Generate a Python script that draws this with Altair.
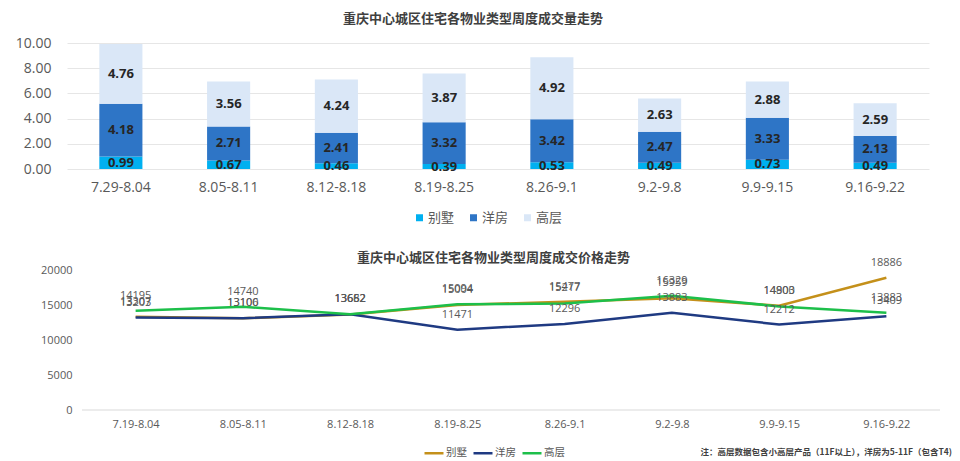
import altair as alt
import pandas as pd

# ---------------- data ----------------
weeks_bar = ["7.29-8.04", "8.05-8.11", "8.12-8.18", "8.19-8.25",
             "8.26-9.1", "9.2-9.8", "9.9-9.15", "9.16-9.22"]
weeks_line = ["7.19-8.04", "8.05-8.11", "8.12-8.18", "8.19-8.25",
              "8.26-9.1", "9.2-9.8", "9.9-9.15", "9.16-9.22"]
types = ["别墅", "洋房", "高层"]

vol_villa = [0.99, 0.67, 0.46, 0.39, 0.53, 0.49, 0.73, 0.49]
vol_yangfang = [4.18, 2.71, 2.41, 3.32, 3.42, 2.47, 3.33, 2.13]
vol_gaoceng = [4.76, 3.56, 4.24, 3.87, 4.92, 2.63, 2.88, 2.59]

price_villa = [13307, 13100, 13652, 15004, 15477, 15959, 14900, 18886]
price_yangfang = [13203, 13106, 13662, 11471, 12296, 13883, 12212, 13409]
price_gaoceng = [14195, 14740, 13682, 15094, 15217, 16329, 14803, 13883]

title_top = "重庆中心城区住宅各物业类型周度成交量走势"
title_bot = "重庆中心城区住宅各物业类型周度成交价格走势"
footnote = "注：高层数据包含小高层产品（11F以上），洋房为5-11F（包含T4)"

# ---------------- tables ----------------
vol_rows = []
for i, w in enumerate(weeks_bar):
    for k, (t, arr) in enumerate(zip(types, [vol_villa, vol_yangfang, vol_gaoceng])):
        vol_rows.append({"week": w, "type": t, "value": arr[i], "order": k})
df_vol = pd.DataFrame(vol_rows)

price_rows = []
for i, w in enumerate(weeks_line):
    for k, (t, arr) in enumerate(zip(types, [price_villa, price_yangfang, price_gaoceng])):
        price_rows.append({"week": w, "type": t, "price": arr[i], "order": k})
df_price = pd.DataFrame(price_rows)

CJK = "Noto Sans CJK SC"
NUM = "Open Sans"
GREY = "#595959"

bar_colors = ["#00B0F0", "#2E75C6", "#DAE7F7"]
line_colors = ["#C4901A", "#1F3A82", "#1DBF4A"]

# ---------------- top chart ----------------
W_TOP = 862
H_TOP = 126

x_top = alt.X("week:N", sort=weeks_bar, title=None,
              scale=alt.Scale(paddingInner=0.6, paddingOuter=0.3),
              axis=alt.Axis(labelAngle=0, domain=False, ticks=False, tickSize=0,
                            labelFontSize=14, labelColor=GREY, labelFont=NUM,
                            labelPadding=11))

y_top_axis = alt.Axis(values=[0, 2, 4, 6, 8, 10], format=".2f",
                      domain=False, ticks=False, tickSize=0,
                      gridColor="#E6E6E6", gridWidth=1, labelOverlap=False,
                      labelFontSize=14, labelColor=GREY, labelFont=NUM,
                      labelPadding=16)

base_top = (alt.Chart(df_vol)
            .transform_stack(stack="value", groupby=["week"],
                             sort=[alt.SortField("order", order="ascending")],
                             as_=["y0", "y1"])
            .transform_calculate(mid="(datum.y0 + datum.y1) / 2"))

bars = base_top.mark_bar().encode(
    x=x_top,
    y=alt.Y("y1:Q", title=None, scale=alt.Scale(domain=[0, 10]), axis=y_top_axis),
    y2="y0:Q",
    color=alt.Color("type:N", sort=types,
                    scale=alt.Scale(domain=types, range=bar_colors),
                    legend=alt.Legend(title=None, orient="none", direction="horizontal",
                                      legendX=346, legendY=168,
                                      symbolType="square", symbolSize=49,
                                      symbolStrokeWidth=0, labelFont=CJK,
                                      labelFontSize=13, labelColor=GREY,
                                      labelOffset=2, columnPadding=12, padding=0)),
    order=alt.Order("order:Q"),
)

bar_labels = base_top.mark_text(fontWeight="bold", fontSize=13, color="#262626",
                                font=NUM, baseline="middle").encode(
    x=x_top,
    y=alt.Y("mid:Q", title=None, axis=y_top_axis),
    text=alt.Text("value:Q", format=".2f"),
)

top = alt.layer(bars, bar_labels).properties(
    width=W_TOP, height=H_TOP,
    title=alt.TitleParams(title_top, fontSize=13, font=CJK, fontWeight="bold",
                          color="#404040", anchor="middle", dx=-25, offset=10,
                          frame="group"),
)

# ---------------- bottom chart ----------------
W_BOT = 873
H_BOT = 140

x_bot = alt.X("week:N", sort=weeks_line, title=None,
              scale=alt.Scale(type="point", padding=0.5, range=[15, W_BOT]),
              axis=alt.Axis(labelAngle=0, domain=False, ticks=False, tickSize=0,
                            grid=False, labelFontSize=11, labelColor=GREY,
                            labelFont=NUM, labelPadding=8))

y_bot_axis = alt.Axis(values=[0, 5000, 10000, 15000, 20000], format="d",
                      grid=False, domain=False, ticks=False, tickSize=0,
                      labelOverlap=False,
                      labelFontSize=11, labelColor=GREY, labelFont=NUM,
                      offset=-15, labelPadding=10)

y_bot = alt.Y("price:Q", title=None, scale=alt.Scale(domain=[0, 20000]),
              axis=y_bot_axis)

lines = alt.Chart(df_price).mark_line(strokeWidth=2.5).encode(
    x=x_bot, y=y_bot,
    color=alt.Color("type:N", sort=types,
                    scale=alt.Scale(domain=types, range=line_colors),
                    legend=alt.Legend(title=None, orient="none", direction="horizontal",
                                      legendX=356, legendY=172,
                                      symbolType="stroke", symbolSize=361,
                                      symbolStrokeWidth=2.5, labelFont=CJK,
                                      labelFontSize=10.5, labelColor=GREY,
                                      labelOffset=1, columnPadding=1, padding=0)),
    order=alt.Order("order:Q"),
)

zero_line = alt.Chart(pd.DataFrame({"price": [0]})).mark_rule(
    color="#D9D9D9", strokeWidth=1).encode(
    y=y_bot, x=alt.value(15), x2=alt.value(W_BOT))

line_labels = alt.Chart(df_price).mark_text(
    dy=-15, fontSize=11, color=GREY, font=NUM, baseline="middle").encode(
    x=x_bot, y=y_bot, text=alt.Text("price:Q", format="d"))

note = alt.Chart(pd.DataFrame({"t": [footnote]})).mark_text(
    align="right", baseline="middle", fontSize=8.5, fontWeight="bold",
    color="#404040", font=CJK).encode(
    x=alt.value(885), y=alt.value(182), text="t:N")

bottom = alt.layer(lines, zero_line, line_labels, note).properties(
    width=W_BOT, height=H_BOT,
    title=alt.TitleParams(title_bot, fontSize=13, font=CJK, fontWeight="bold",
                          color="#404040", anchor="middle", dx=-10, offset=-8,
                          frame="group"),
)

chart = (alt.vconcat(top, bottom, spacing=26)
         .resolve_scale(color="independent", x="independent", y="independent")
         .properties(padding={"left": 15, "top": 13, "right": 5, "bottom": 0},
                     background="white")
         .configure_view(stroke=None)
         .configure_concat(spacing=26))

chart.save("out.html", embed_options={"renderer": "svg", "actions": False})
